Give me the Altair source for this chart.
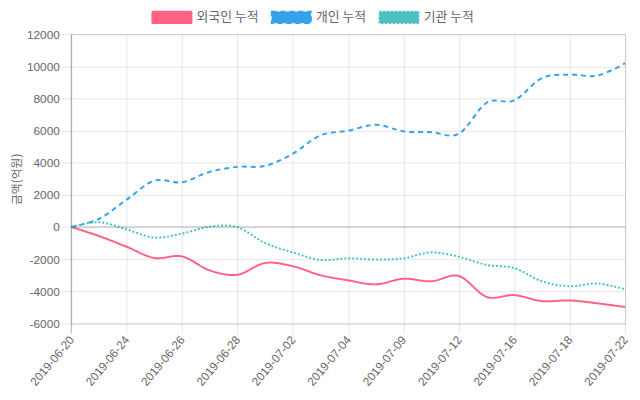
import altair as alt
import pandas as pd

dates = ["2019-06-20", "2019-06-21", "2019-06-24", "2019-06-25", "2019-06-26",
         "2019-06-27", "2019-06-28", "2019-07-01", "2019-07-02", "2019-07-03",
         "2019-07-04", "2019-07-05", "2019-07-09", "2019-07-10", "2019-07-12",
         "2019-07-15", "2019-07-16", "2019-07-17", "2019-07-18", "2019-07-19",
         "2019-07-22"]
foreign = [0, -560, -1230, -1930, -1830, -2700, -2970, -2240, -2440, -3000,
           -3320, -3570, -3220, -3380, -3050, -4350, -4240, -4610, -4570, -4750, -4980]
personal = [0, 500, 1700, 2880, 2780, 3430, 3740, 3800, 4560, 5700,
            5990, 6360, 5950, 5900, 5800, 7730, 7880, 9270, 9480, 9420, 10190]
institution = [0, 300, -150, -660, -410, 20, -10, -1000, -1580, -2050,
               -1950, -2030, -1950, -1580, -1850, -2360, -2560, -3380, -3690, -3520, -3870]
series_names = ["외국인 누적", "개인 누적", "기관 누적"]
series_colors = ["#ff6384", "#36a2eb", "#4bc0c0"]
series_dashes = [[1, 0], [5, 4], [2, 2]]
y_domain = [-6000, 12000]
label_dates = dates[::2]

rows = []
for name, vals in zip(series_names, [foreign, personal, institution]):
    for d, v in zip(dates, vals):
        rows.append({"date": d, "value": v, "series": name})
df = pd.DataFrame(rows)
one = pd.DataFrame({"k": [0]})

FONT = "Liberation Sans, Arial, Noto Sans CJK KR"
KFONT = "Noto Sans CJK KR, Liberation Sans"
GRID = "rgba(0,0,0,0.1)"

x = alt.X("date:O", scale=alt.Scale(type="point", padding=0, domain=dates),
          axis=alt.Axis(values=label_dates, title=None, labelAngle=-50,
                        labelAlign="right", labelBaseline="middle",
                        labelPadding=4, tickSize=10, domain=False,
                        gridColor=GRID, tickColor=GRID, labelOverlap=False,
                        labelColor="#666", labelFont=FONT, labelFontSize=12,
                        grid=True))
y = alt.Y("value:Q", scale=alt.Scale(domain=y_domain, nice=False),
          axis=alt.Axis(tickCount=9, title="금액(억원)", grid=True,
                        labelExpr="datum.value + ''", tickSize=10, labelPadding=2,
                        labelOverlap=False, domain=False, gridColor=GRID,
                        tickColor=GRID, labelColor="#666",
                        labelFont=FONT, labelFontSize=12,
                        titleFont=KFONT, titleFontSize=12, titleColor="#666",
                        titleFontWeight="normal", titleX=-55, titleY=146.5,
                        titleAngle=-90, titleAlign="center", titleBaseline="middle"))

def make_legend():
    return alt.Legend(title=None, orient="none", direction="horizontal",
                      legendX=81, legendY=-38,
                      symbolType="M-1,-0.3L1,-0.3L1,0.3L-1,0.3Z",
                      symbolSize=1600, symbolStrokeWidth=1.5, labelOffset=4,
                      columnPadding=10, padding=0, labelFont=KFONT, labelFontSize=13,
                      labelColor="#666", labelLimit=300)

color_scale = alt.Scale(domain=series_names, range=series_colors)

lines = alt.Chart(df).mark_line(interpolate="cardinal", tension=0, strokeWidth=2).encode(
    x=x, y=y,
    color=alt.Color("series:N", scale=color_scale, legend=make_legend()),
    strokeDash=alt.StrokeDash("series:N", scale=alt.Scale(domain=series_names, range=series_dashes),
                              legend=make_legend()),
)

fills = alt.Chart(df).mark_point(filled=True, size=0, opacity=1).encode(
    x=x, y=y,
    fill=alt.Fill("series:N", scale=color_scale, legend=make_legend()),
)

zero = alt.Chart(one).mark_rule(color="#000", opacity=0.25, strokeWidth=1).encode(
    y=alt.datum(0))
left = alt.Chart(one).mark_rule(color="#000", opacity=0.25, strokeWidth=1).encode(
    x=alt.datum(dates[0]), y=alt.value(0), y2=alt.value(303))

chart = alt.layer(lines, fills, zero, left).properties(
    width=561, height=293,
    autosize=alt.AutoSizeParams(type="none"),
    padding={"left": 64, "top": 24, "right": 7, "bottom": 67},
).configure_view(stroke=None).configure_axis(labelOverlap=False).configure(background="white")

chart.save("out.html", embed_options={"renderer": "svg", "actions": False})
